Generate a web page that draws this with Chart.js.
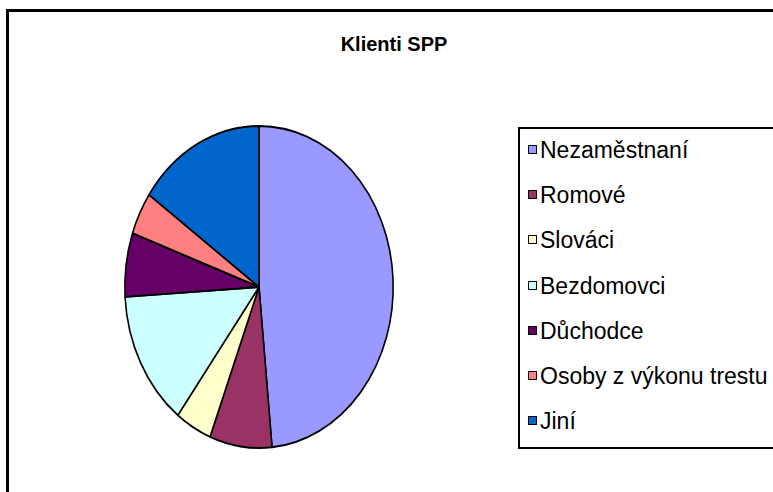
<!DOCTYPE html>
<html>
<head>
<meta charset="utf-8">
<title>Klienti SPP</title>
<script src="https://cdn.jsdelivr.net/npm/chart.js@4.4.0/dist/chart.umd.min.js"></script>
<style>
    html, body {
        margin: 0;
        padding: 0;
        width: 773px;
        height: 492px;
        overflow: hidden;
        background: #fff;
        font-family: "Liberation Sans", Arial, sans-serif;
    }
    #frame {
        position: absolute;
        left: 6px;
        top: 9px;
        width: 900px;
        height: 600px;
        border-top: 3px solid #000;
        border-left: 3px solid #000;
    }
    #title {
        position: absolute;
        left: 294px;
        width: 200px;
        top: 32px;
        text-align: center;
        font-weight: bold;
        font-size: 20px;
        line-height: 24px;
        color: #000;
    }
    #pieWrap {
        position: absolute;
        left: 0;
        top: 0;
        width: 773px;
        height: 492px;
    }
    #legend {
        position: absolute;
        left: 518px;
        top: 127px;
        width: 300px;
        height: 318px;
        border: 2px solid #000;
        background: #fff;
    }
    .legend-item {
        position: absolute;
        left: 0;
        height: 26px;
        line-height: 26px;
        font-size: 23px;
        color: #000;
        white-space: nowrap;
    }
    .legend-box {
        position: absolute;
        left: 8px;
        top: 8px;
        width: 7px;
        height: 7px;
        border: 1px solid #000;
    }
    .legend-text {
        position: absolute;
        left: 20px;
        top: 0;
    }
</style>
</head>
<body>
<div id="frame"></div>
<div id="title">Klienti SPP</div>
<div id="pieWrap"><canvas id="pieChart"></canvas></div>
<div id="legend"></div>

<script>
// chart data (percent of clients)
const categories = ['Nezaměstnaní', 'Romové', 'Slováci', 'Bezdomovci', 'Důchodce', 'Osoby z výkonu trestu', 'Jiní'];
const shares = [48.5, 7.5, 4.4, 13.7, 6.4, 4.3, 15.3];
const sliceColors = ['#9999FF', '#993366', '#FFFFCC', '#CCFFFF', '#660066', '#FF8080', '#0066CC'];

let charts = {};

// the original pie is a bit taller than wide, so stretch the drawing vertically
const stretchPie = {
    id: 'stretchPie',
    beforeDatasetsDraw(chart) {
        const ctx = chart.ctx;
        const area = chart.chartArea;
        const cx = (area.left + area.right) / 2;
        const cy = (area.top + area.bottom) / 2;
        ctx.save();
        ctx.translate(cx, cy);
        ctx.scale(1, 1.2);
        ctx.translate(-cx, -cy);
    },
    afterDatasetsDraw(chart) {
        chart.ctx.restore();
    }
};

document.addEventListener('DOMContentLoaded', () => {
    buildLegend();
    drawPie();
});

function drawPie() {
    const ctx = document.getElementById('pieChart').getContext('2d');

    charts.pie = new Chart(ctx, {
        type: 'pie',
        data: {
            labels: categories,
            datasets: [{
                data: shares,
                backgroundColor: sliceColors,
                borderColor: '#000',
                borderWidth: 1.6
            }]
        },
        options: {
            responsive: true,
            maintainAspectRatio: false,
            animation: false,
            layout: {
                padding: { left: 124, right: 379, top: 152, bottom: 70 }
            },
            plugins: {
                legend: { display: false },
                title: { display: false },
                tooltip: { enabled: false }
            }
        },
        plugins: [stretchPie]
    });
}

function buildLegend() {
    const container = document.getElementById('legend');
    const legendTop = 129; // inner top of the legend box

    container.innerHTML = categories.map((name, idx) => {
        const rowCenter = 150 + idx * 45.2;
        return `
            <div class="legend-item" style="top:${(rowCenter - legendTop - 13).toFixed(1)}px">
                <span class="legend-box" style="background:${sliceColors[idx]}"></span>
                <span class="legend-text">${name}</span>
            </div>
        `;
    }).join('');
}

console.log('Pie chart script loaded');
</script>
</body>
</html>
